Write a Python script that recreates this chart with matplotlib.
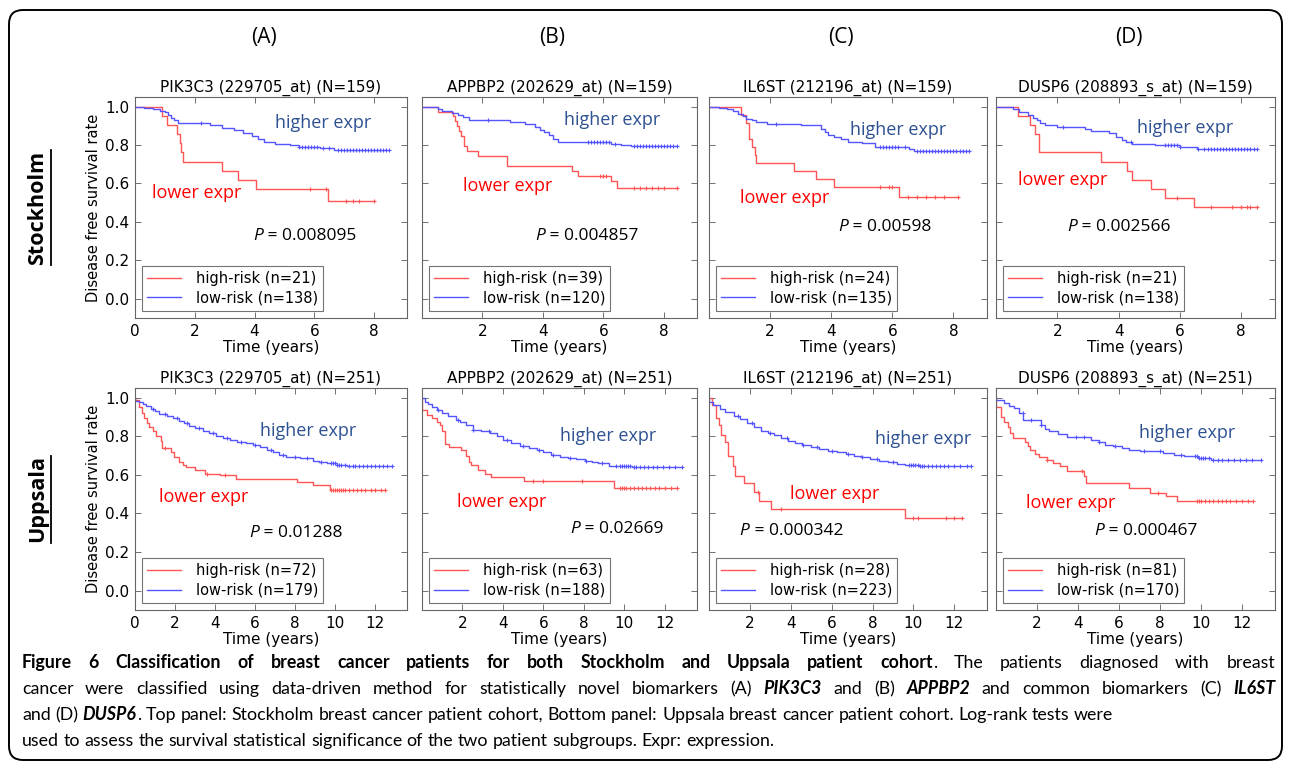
import numpy as np
import matplotlib.pyplot as plt
from matplotlib.patches import FancyBboxPatch
from matplotlib.lines import Line2D
from matplotlib.transforms import IdentityTransform

# ---- survival curves: drop times, survival after drop, censor times ----
# Stockholm (N=159)
sth_pik3c3_hi_t = [0.89, 1.08, 1.39, 1.5, 1.53, 1.6, 2.9, 3.45, 4.05, 6.45]
sth_pik3c3_hi_s = [0.952, 0.905, 0.857, 0.81, 0.762, 0.714, 0.667, 0.619, 0.571, 0.508]
sth_pik3c3_hi_c = [5.85, 6.4, 7.05, 7.3, 7.5, 8.0]
sth_pik3c3_lo_t = [0.3, 0.6, 0.85, 1.0, 1.1, 1.2, 1.3, 1.45, 2.5, 2.9, 3.3, 3.6, 3.9, 4.1, 4.3, 4.7, 5.2, 5.5, 6.2, 6.65]
sth_pik3c3_lo_s = [0.993, 0.986, 0.978, 0.971, 0.957, 0.942, 0.928, 0.913, 0.906, 0.891, 0.876, 0.861, 0.846, 0.831, 0.816,
                   0.808, 0.800, 0.792, 0.784, 0.775]
sth_pik3c3_lo_c = [2.2, 5.5, 5.6, 5.7, 5.8, 5.9, 6.0, 6.1, 6.3, 6.5, 6.8, 6.9, 7.0, 7.1, 7.2, 7.3, 7.4, 7.5, 7.6, 7.7, 7.8,
                   7.9, 8.0, 8.1, 8.2, 8.3, 8.4, 8.5]

sth_appbp2_hi_t = [0.52, 1.02, 1.1, 1.15, 1.22, 1.3, 1.4, 1.5, 1.85, 2.8, 4.97, 5.15, 6.25, 6.45]
sth_appbp2_hi_s = [0.974, 0.949, 0.923, 0.897, 0.872, 0.846, 0.795, 0.769, 0.744, 0.692, 0.667, 0.641, 0.612, 0.574]
sth_appbp2_hi_c = [5.9, 6.0, 6.1, 7.0, 7.2, 7.4, 7.6, 7.8, 8.0, 8.45]
sth_appbp2_lo_t = [0.52, 0.65, 1.0, 1.2, 1.35, 1.55, 2.9, 3.4, 3.75, 3.9, 4.05, 4.2, 4.35, 4.5, 6.25, 6.6, 6.9]
sth_appbp2_lo_s = [0.99, 0.978, 0.965, 0.955, 0.945, 0.928, 0.919, 0.91, 0.893, 0.878, 0.866, 0.85, 0.832, 0.815,
                   0.808, 0.798, 0.793]
sth_appbp2_lo_c = [2.2, 5.5, 5.6, 5.7, 5.8, 5.9, 6.0, 6.1, 6.2, 6.4, 7.0, 7.1, 7.2, 7.3, 7.4, 7.5, 7.6, 7.7, 7.8, 7.9,
                   8.0, 8.1, 8.2, 8.3, 8.45]

sth_il6st_hi_t = [1.06, 1.2, 1.3, 1.4, 1.5, 1.55, 2.78, 3.5, 4.1, 6.22]
sth_il6st_hi_s = [0.958, 0.917, 0.833, 0.792, 0.75, 0.708, 0.667, 0.625, 0.583, 0.53]
sth_il6st_hi_c = [5.6, 5.9, 6.0, 6.5, 6.8, 7.1, 7.4, 7.7, 8.15]
sth_il6st_lo_t = [0.33, 0.6, 0.8, 0.95, 1.1, 1.22, 1.4, 1.55, 1.9, 3.0, 3.67, 3.8, 3.9, 4.1, 4.33, 4.55, 5.0, 5.44, 6.55, 6.72]
sth_il6st_lo_s = [0.991, 0.985, 0.978, 0.962, 0.950, 0.937, 0.928, 0.92, 0.911, 0.903, 0.885, 0.868, 0.851, 0.84, 0.829,
                  0.817, 0.809, 0.791, 0.78, 0.769]
sth_il6st_lo_c = [2.2, 5.6, 5.7, 5.8, 5.9, 6.0, 6.1, 6.2, 6.4, 6.8, 6.9, 7.0, 7.1, 7.2, 7.3, 7.4, 7.5, 7.6, 7.7, 7.8,
                  7.9, 8.0, 8.1, 8.2, 8.3, 8.4, 8.5]

sth_dusp6_hi_t = [0.72, 1.1, 1.28, 1.39, 3.44, 4.28, 4.44, 5.05, 5.5, 6.45]
sth_dusp6_hi_s = [0.952, 0.905, 0.857, 0.762, 0.714, 0.667, 0.619, 0.571, 0.524, 0.476]
sth_dusp6_hi_c = [5.9, 7.0, 7.7, 8.0, 8.2, 8.3, 8.5]
sth_dusp6_lo_t = [0.56, 0.75, 1.05, 1.2, 1.33, 1.45, 1.6, 2.0, 2.9, 3.1, 3.67, 3.9, 4.1, 4.25, 4.44, 5.2, 6.0, 6.55]
sth_dusp6_lo_s = [0.988, 0.974, 0.954, 0.94, 0.928, 0.915, 0.906, 0.894, 0.882, 0.872, 0.865, 0.843, 0.826, 0.815,
                  0.808, 0.80, 0.79, 0.778]
sth_dusp6_lo_c = [2.2, 4.4, 5.5, 5.6, 5.7, 5.8, 5.9, 6.0, 6.6, 6.8, 6.9, 7.0, 7.1, 7.2, 7.3, 7.4, 7.5, 7.6, 7.7, 7.8,
                  7.9, 8.0, 8.1, 8.2, 8.3, 8.4, 8.5]

# Uppsala (N=251)
upp_pik3c3_hi_t = [0.02, 0.2, 0.35, 0.47, 0.6, 0.72, 0.9, 1.05, 1.3, 1.35, 1.8, 1.97, 2.22, 2.4, 2.56, 2.98, 3.48,
                   4.23, 5.07, 8.08, 8.9, 9.75]
upp_pik3c3_hi_s = [0.986, 0.95, 0.92, 0.897, 0.87, 0.846, 0.825, 0.803, 0.777, 0.74, 0.717, 0.691, 0.666, 0.652, 0.64,
                   0.623, 0.605, 0.597, 0.58, 0.563, 0.545, 0.52]
upp_pik3c3_hi_c = [1.5, 3.6, 4.5, 9.8, 9.9, 10.0, 10.1, 10.2, 10.3, 10.4, 10.5, 10.7, 10.9, 11.1, 11.3, 11.5, 11.8,
                   12.0, 12.3, 12.5]
upp_pik3c3_lo_t = [0.02, 0.2, 0.4, 0.55, 0.8, 1.0, 1.22, 1.6, 1.9, 2.2, 2.45, 2.7, 3.0, 3.4, 3.7, 4.06, 4.4, 4.73,
                   5.1, 5.57, 5.9, 6.24, 6.6, 6.9, 7.2, 7.57, 8.24, 8.9, 9.2, 9.58, 10.1, 10.6]
upp_pik3c3_lo_s = [0.985, 0.975, 0.965, 0.957, 0.943, 0.93, 0.914, 0.903, 0.894, 0.88, 0.867, 0.854, 0.842, 0.828,
                   0.815, 0.803, 0.79, 0.78, 0.771, 0.763, 0.753, 0.743, 0.73, 0.717, 0.705, 0.695, 0.686, 0.674,
                   0.667, 0.66, 0.652, 0.647]
upp_pik3c3_lo_c = [0.9, 1.5, 2.1, 2.6, 3.2, 3.9, 4.6, 5.3, 6.0, 6.8, 7.4, 8.0, 8.6, 9.3, 9.8, 9.9, 10.0, 10.1, 10.2,
                   10.3, 10.5, 10.7, 10.9, 11.0, 11.2, 11.4, 11.6, 11.8, 12.0, 12.2, 12.4, 12.6, 12.84]

upp_appbp2_hi_t = [0.02, 0.24, 0.49, 0.74, 0.9, 1.0, 1.16, 1.33, 1.92, 2.17, 2.3, 2.42, 2.76, 3.1, 3.43, 5.03, 9.48]
upp_appbp2_hi_s = [0.937, 0.91, 0.893, 0.873, 0.857, 0.825, 0.762, 0.746, 0.73, 0.698, 0.667, 0.651, 0.627, 0.603,
                   0.587, 0.567, 0.533]
upp_appbp2_hi_c = [5.5, 6.0, 7.9, 9.8, 9.9, 10.0, 10.1, 10.3, 10.5, 10.7, 10.9, 11.1, 11.3, 11.5, 11.7, 12.0, 12.3, 12.6]
upp_appbp2_lo_t = [0.02, 0.15, 0.3, 0.49, 0.75, 1.0, 1.3, 1.66, 1.9, 2.17, 2.5, 2.9, 3.34, 3.7, 4.0, 4.4, 4.86, 5.3,
                   5.7, 6.0, 6.37, 6.8, 7.2, 7.6, 8.05, 8.4, 8.72, 9.23, 10.4]
upp_appbp2_lo_s = [0.997, 0.98, 0.968, 0.954, 0.937, 0.92, 0.903, 0.885, 0.872, 0.859, 0.833, 0.825, 0.816, 0.8,
                   0.782, 0.767, 0.751, 0.74, 0.73, 0.718, 0.704, 0.695, 0.687, 0.68, 0.674, 0.668, 0.662, 0.648, 0.641]
upp_appbp2_lo_c = [0.8, 1.8, 2.5, 3.3, 4.2, 5.0, 5.8, 6.5, 7.3, 8.1, 8.9, 9.6, 9.8, 9.9, 10.0, 10.1, 10.2, 10.3,
                   10.5, 10.6, 10.8, 11.0, 11.2, 11.4, 11.6, 11.9, 12.2, 12.5, 12.84]

upp_il6st_hi_t = [0.13, 0.35, 0.48, 0.6, 0.77, 0.94, 1.19, 1.25, 1.7, 2.2, 2.45, 3.04, 9.6]
upp_il6st_hi_s = [0.964, 0.893, 0.857, 0.804, 0.768, 0.7, 0.648, 0.596, 0.558, 0.51, 0.467, 0.424, 0.376]
upp_il6st_hi_c = [2.4, 3.5, 10.0, 10.2, 11.6, 12.0, 12.37]
upp_il6st_lo_t = [0.02, 0.2, 0.52, 0.8, 1.2, 1.5, 1.87, 2.2, 2.54, 2.9, 3.2, 3.5, 3.88, 4.2, 4.55, 5.0, 5.4, 5.8,
                  6.24, 6.7, 7.08, 7.5, 7.9, 8.3, 8.76, 9.2, 9.6, 10.3]
upp_il6st_lo_s = [0.975, 0.96, 0.94, 0.925, 0.906, 0.89, 0.871, 0.85, 0.828, 0.817, 0.806, 0.79, 0.777, 0.765, 0.754,
                  0.745, 0.734, 0.725, 0.716, 0.708, 0.699, 0.69, 0.682, 0.674, 0.665, 0.658, 0.651, 0.644]
upp_il6st_lo_c = [1.4, 2.1, 3.0, 3.8, 4.6, 5.3, 6.0, 6.8, 7.5, 8.2, 9.0, 9.8, 9.9, 10.0, 10.1, 10.2, 10.3, 10.4, 10.5,
                  10.7, 10.9, 11.1, 11.3, 11.5, 11.7, 12.0, 12.3, 12.6, 12.8]

upp_dusp6_hi_t = [0.02, 0.24, 0.4, 0.57, 0.7, 0.83, 1.42, 1.55, 1.67, 1.9, 2.1, 2.5, 2.8, 3.1, 3.44, 4.28, 4.4, 6.48,
                  7.5, 8.3, 8.84]
upp_dusp6_hi_s = [0.953, 0.90, 0.875, 0.85, 0.815, 0.79, 0.772, 0.75, 0.729, 0.71, 0.695, 0.678, 0.66, 0.644, 0.618,
                  0.592, 0.558, 0.532, 0.506, 0.49, 0.464]
upp_dusp6_hi_c = [2.5, 4.2, 7.9, 9.8, 9.9, 10.0, 10.2, 10.4, 10.6, 10.8, 11.0, 11.2, 11.4, 11.7, 12.0, 12.3, 12.55]
upp_dusp6_lo_t = [0.02, 0.4, 0.65, 0.9, 1.1, 1.33, 2.17, 2.4, 2.6, 3.0, 3.44, 4.62, 5.0, 5.3, 5.7, 6.14, 6.5, 7.0,
                  8.16, 8.7, 9.17, 9.85, 10.5]
upp_dusp6_lo_s = [0.988, 0.97, 0.958, 0.945, 0.92, 0.885, 0.859, 0.84, 0.825, 0.81, 0.796, 0.782, 0.768, 0.756,
                  0.748, 0.739, 0.73, 0.722, 0.713, 0.704, 0.696, 0.688, 0.679]
upp_dusp6_lo_c = [1.3, 1.7, 2.2, 3.9, 4.3, 5.0, 5.8, 7.2, 8.0, 9.0, 9.7, 9.8, 9.9, 10.0, 10.1, 10.2, 10.4, 10.6, 10.8,
                  11.0, 11.3, 11.6, 11.9, 12.2, 12.5, 12.9]

# ---- labels ----
col_heads = ["(A)", "(B)", "(C)", "(D)"]
row_names = ["Stockholm", "Uppsala"]
titles_sth = ["PIK3C3 (229705_at) (N=159)", "APPBP2 (202629_at) (N=159)", "IL6ST (212196_at) (N=159)",
              "DUSP6 (208893_s_at) (N=159)"]
titles_upp = ["PIK3C3 (229705_at) (N=251)", "APPBP2 (202629_at) (N=251)", "IL6ST (212196_at) (N=251)",
              "DUSP6 (208893_s_at) (N=251)"]
n_hi_sth = [21, 39, 24, 21]
n_lo_sth = [138, 120, 135, 138]
n_hi_upp = [72, 63, 28, 81]
n_lo_upp = [179, 188, 223, 170]
pvals_sth = ["0.008095", "0.004857", "0.00598", "0.002566"]
pvals_upp = ["0.01288", "0.02669", "0.000342", "0.000467"]

curves_sth = [
    (sth_pik3c3_hi_t, sth_pik3c3_hi_s, sth_pik3c3_hi_c, sth_pik3c3_lo_t, sth_pik3c3_lo_s, sth_pik3c3_lo_c),
    (sth_appbp2_hi_t, sth_appbp2_hi_s, sth_appbp2_hi_c, sth_appbp2_lo_t, sth_appbp2_lo_s, sth_appbp2_lo_c),
    (sth_il6st_hi_t, sth_il6st_hi_s, sth_il6st_hi_c, sth_il6st_lo_t, sth_il6st_lo_s, sth_il6st_lo_c),
    (sth_dusp6_hi_t, sth_dusp6_hi_s, sth_dusp6_hi_c, sth_dusp6_lo_t, sth_dusp6_lo_s, sth_dusp6_lo_c),
]
curves_upp = [
    (upp_pik3c3_hi_t, upp_pik3c3_hi_s, upp_pik3c3_hi_c, upp_pik3c3_lo_t, upp_pik3c3_lo_s, upp_pik3c3_lo_c),
    (upp_appbp2_hi_t, upp_appbp2_hi_s, upp_appbp2_hi_c, upp_appbp2_lo_t, upp_appbp2_lo_s, upp_appbp2_lo_c),
    (upp_il6st_hi_t, upp_il6st_hi_s, upp_il6st_hi_c, upp_il6st_lo_t, upp_il6st_lo_s, upp_il6st_lo_c),
    (upp_dusp6_hi_t, upp_dusp6_hi_s, upp_dusp6_hi_c, upp_dusp6_lo_t, upp_dusp6_lo_s, upp_dusp6_lo_c),
]

# where the in-plot annotations sit (data coords): higher expr, lower expr, P value
note_pos_sth = [((4.67, 0.913), (0.56, 0.549), (3.94, 0.326)),
                ((4.71, 0.931), (1.36, 0.586), (3.74, 0.328)),
                ((4.61, 0.877), (1.0, 0.526), (4.22, 0.376)),
                ((4.61, 0.888), (0.72, 0.619), (2.33, 0.373))]
note_pos_upp = [((6.24, 0.825), (1.22, 0.485), (5.7, 0.297)),
                ((6.82, 0.802), (1.75, 0.459), (7.34, 0.318)),
                ((8.12, 0.785), (3.97, 0.502), (1.5, 0.308)),
                ((6.95, 0.816), (1.47, 0.455), (4.79, 0.31))]

caption = [
    "*Figure 6 Classification of breast cancer patients for both Stockholm and Uppsala patient cohort*. "
    "The patients diagnosed with breast",
    "cancer were classified using data-driven method for statistically novel biomarkers (A) ~PIK3C3~ and (B) "
    "~APPBP2~ and common biomarkers (C) ~IL6ST~",
    "and (D) ~DUSP6~. Top panel: Stockholm breast cancer patient cohort, Bottom panel: Uppsala breast cancer "
    "patient cohort. Log-rank tests were",
    "used to assess the survival statistical significance of the two patient subgroups. Expr: expression.",
]

RED = '#ff5555'
BLUE = '#5555ff'
HI_TXT = '#2d5191'
ANNO_FONT = ['Open Sans', 'DejaVu Sans']
CAP_FONT = ['Lato', 'Open Sans', 'DejaVu Sans']

W, H = 1290, 770
fig = plt.figure(figsize=(W / 100, H / 100), dpi=100)


def px_box(l, t, r, b):
    return [l / W, 1 - b / H, (r - l) / W, (b - t) / H]


def km(ax, t, s, c, color, label):
    end = max(c)
    x = [0.0] + list(t) + [end]
    y = [1.0] + list(s) + [s[-1]]
    ax.step(x, y, where='post', color=color, lw=1.0, label=label)
    idx = np.searchsorted(t, c, side='right')
    yc = np.array([1.0] + list(s))[idx]
    ax.plot(c, yc, '+', color=color, ms=3.5, mew=0.8)


col_left = [135, 422, 709, 996]
col_right = [407, 697, 987, 1275]
row_top = [97, 388]
row_bot = [318, 610]

rows = [(titles_sth, curves_sth, n_hi_sth, n_lo_sth, pvals_sth, note_pos_sth, 9.1, [0, 2, 4, 6, 8]),
        (titles_upp, curves_upp, n_hi_upp, n_lo_upp, pvals_upp, note_pos_upp, 13.6, [0, 2, 4, 6, 8, 10, 12])]

for r, (titles, curves, nhi, nlo, pv, notes, xmax, xt) in enumerate(rows):
    for k in range(4):
        ax = fig.add_axes(px_box(col_left[k], row_top[r], col_right[k], row_bot[r]))
        ht, hs, hc, lt, ls, lc = curves[k]
        km(ax, ht, hs, hc, RED, f"high-risk (n={nhi[k]})")
        km(ax, lt, ls, lc, BLUE, f"low-risk (n={nlo[k]})")
        ax.set_xlim(0, xmax)
        ax.set_ylim(-0.1, 1.05)
        ax.set_yticks([0.0, 0.2, 0.4, 0.6, 0.8, 1.0])
        ax.set_xticks(xt if k == 0 else xt[1:])
        ax.tick_params(direction='in', top=True, right=True, length=4, width=0.6, color='0.35',
                       labelsize=11, pad=4, labelleft=(k == 0))
        for sp in ax.spines.values():
            sp.set_color('0.4')
            sp.set_linewidth(0.8)
        ax.set_title(titles[k], fontsize=11, pad=4)
        ax.set_xlabel("Time (years)", fontsize=11, labelpad=1)
        if k == 0:
            ax.set_ylabel("Disease free survival rate", fontsize=10.5, labelpad=3)
        leg = ax.legend(loc='lower left', fontsize=10.5, fancybox=False, edgecolor='0.45', framealpha=1,
                        handlelength=2.3, handletextpad=1.0, borderpad=0.35, labelspacing=0.3)
        leg.get_frame().set_linewidth(0.8)
        (hx, hy), (lx, ly), (px_, py_) = notes[k]
        ax.text(hx, hy, "higher expr", color=HI_TXT, fontsize=13, family=ANNO_FONT, va='center')
        ax.text(lx, ly, "lower expr", color='red', fontsize=13, family=ANNO_FONT, va='center')
        tp = ax.text(px_, py_, "P", fontsize=12.5, family=ANNO_FONT, style='italic', va='center')
        ax.annotate(f" = {pv[k]}", xy=(1, 0), xycoords=tp, fontsize=12.5, family=ANNO_FONT,
                    va='bottom', ha='left')

# column headers and row labels
for k, lab in enumerate(col_heads):
    fig.text(((col_left[k] + col_right[k]) / 2 - 7) / W, 1 - 37 / H, lab, fontsize=15, family=ANNO_FONT,
             ha='center', va='center')
for r, name in enumerate(row_names):
    yc = (row_top[r] + row_bot[r]) / 2
    fig.text(38 / W, 1 - yc / H, name, fontsize=15.5, family=ANNO_FONT, weight='bold', rotation=90,
             ha='center', va='center')
renderer = fig.canvas.get_renderer()
for t in fig.texts[-2:]:
    bb = t.get_window_extent(renderer)
    fig.add_artist(Line2D([(bb.x1 + 2.5) / W] * 2, [bb.y0 / H, bb.y1 / H], color='black', lw=1.3,
                          transform=fig.transFigure))

# outer rounded border
fig.add_artist(FancyBboxPatch((9, 10), 1273, 750, boxstyle='round,pad=0,rounding_size=14',
                              transform=IdentityTransform(), fill=False, edgecolor='black', lw=1.4))


# caption with mixed bold / bold-italic runs
def parse(line):
    words, cur, buf, style = [], [], '', 'r'
    for ch in line:
        if ch in '*~':
            if buf:
                cur.append((buf, style))
                buf = ''
            new = 'b' if ch == '*' else 'bi'
            style = 'r' if style == new else new
        elif ch == ' ':
            if buf:
                cur.append((buf, style))
                buf = ''
            if cur:
                words.append(cur)
                cur = []
        else:
            buf += ch
    if buf:
        cur.append((buf, style))
    if cur:
        words.append(cur)
    return words


CAP_FS = 12.8
probe_a = fig.text(0, 0, "ab", fontsize=CAP_FS, family=CAP_FONT)
probe_b = fig.text(0, 0, "a b", fontsize=CAP_FS, family=CAP_FONT)
space_w = probe_b.get_window_extent(renderer).width - probe_a.get_window_extent(renderer).width
probe_a.remove()
probe_b.remove()

cap_x0, cap_x1 = 22, 1275
cap_y = [668, 694, 720, 746]
for i, line in enumerate(caption):
    words = parse(line)
    placed = []
    for w in words:
        arts = []
        for txt, st in w:
            a = fig.text(0, 1 - cap_y[i] / H, txt, fontsize=CAP_FS, family=CAP_FONT,
                         weight='bold' if 'b' in st else 'normal',
                         style='italic' if 'i' in st else 'normal', va='baseline')
            arts.append((a, a.get_window_extent(renderer).width))
        placed.append(arts)
    word_w = [sum(wd for _, wd in arts) for arts in placed]
    gap = space_w
    if i < 2:
        gap = max((cap_x1 - cap_x0 - sum(word_w)) / (len(word_w) - 1), 0.6 * space_w)
    x = cap_x0
    for arts, ww in zip(placed, word_w):
        for a, wd in arts:
            a.set_x(x / W)
            x += wd
        x += gap

fig.savefig("out.png", dpi=100)
